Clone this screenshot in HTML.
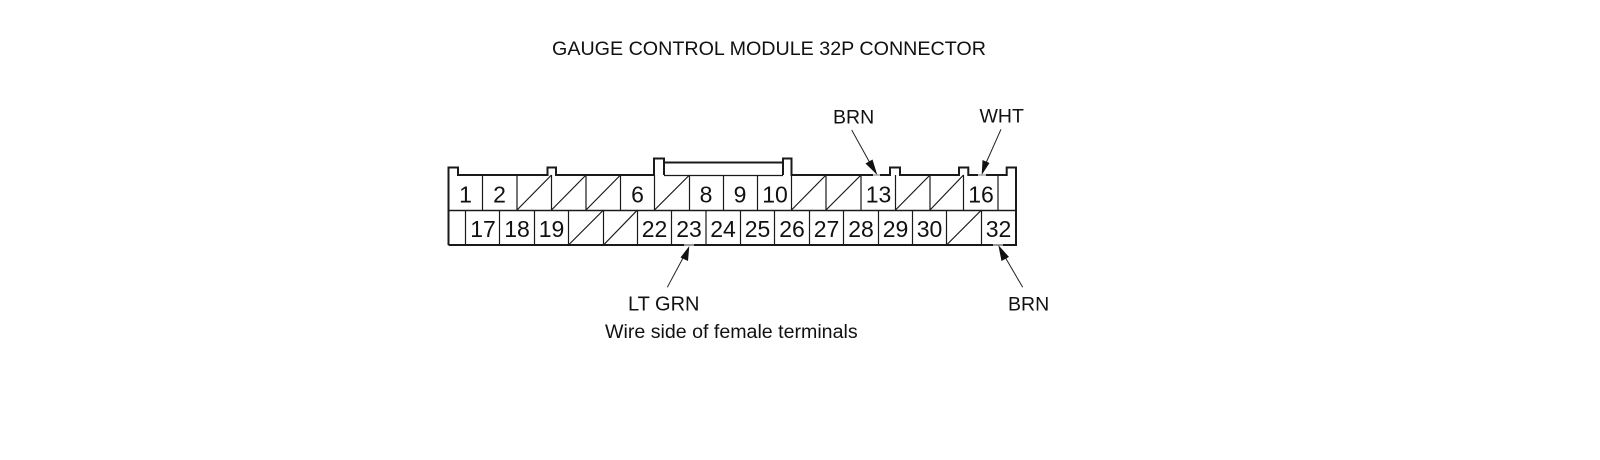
<!DOCTYPE html>
<html>
<head>
<meta charset="utf-8">
<title>Gauge Control Module 32P Connector</title>
<style>
html,body{margin:0;padding:0;background:#fff;}
svg{display:block;}
text{font-family:"Liberation Sans",sans-serif;fill:#111;}
.n{font-size:23px;text-anchor:middle;}
.l{font-size:19.5px;}
</style>
</head>
<body>
<svg width="1600" height="460" viewBox="0 0 1600 460" xmlns="http://www.w3.org/2000/svg">
<rect width="1600" height="460" fill="#fff"/>

<!-- Inner lines -->
<g stroke="#1a1a1a" stroke-width="1.2" fill="none">
<path d="M448 210.5H1016" stroke-width="1.6"/>
<path d="M664 175.5H783"/>
<!-- top row dividers -->
<path d="M482.5 175V210M517 175V210M551.5 175V210M586 175V210M620.5 175V210M654.5 175V210M689.5 175V210M723.5 175V210M757.5 175V210M791.5 175V210M826 175V210M861 175V210M895.5 175V210M930 175V210M963.5 175V210M998 175V210"/>
<!-- bottom row dividers -->
<path d="M465.5 210V245M499.5 210V245M534.5 210V245M568.5 210V245M603.5 210V245M637.5 210V245M671.5 210V245M706 210V245M740.5 210V245M774.5 210V245M809.5 210V245M843.5 210V245M878.5 210V245M912.5 210V245M946.5 210V245M981.5 210V245"/>
<!-- slashes top -->
<path d="M517 210L551.5 175M551.5 210L586 175M586 210L620.5 175M654.5 210L689.5 175M791.5 210L826 175M826 210L861 175M895.5 210L930 175M930 210L963.5 175"/>
<!-- slashes bottom -->
<path d="M568.5 245L603.5 210M603.5 245L637.5 210M946.5 245L981.5 210"/>
</g>

<!-- Outer outline -->
<g stroke="#1a1a1a" stroke-width="2" fill="none">
<path d="M448.5 245V167.5H458V175H547.5V167.5H556V175H654V158.5H664V175M664 162.5H783M783 175V158.5H791.5V175H873M880 175H890V167.5H900V175H959V167.5H968.3V175H978M986 175H1006.7V167.5H1016V245H448.5"/>
<path d="M873 175H880M978 175H986" stroke="#bbb"/>
<path d="M684 245H694M993 245H1003" stroke="#999"/>
</g>

<!-- Numbers -->
<g>
<text class="n" x="465.5" y="202.5">1</text>
<text class="n" x="499.5" y="202.5">2</text>
<text class="n" x="637.5" y="202.5">6</text>
<text class="n" x="706" y="202.5">8</text>
<text class="n" x="740" y="202.5">9</text>
<text class="n" x="775" y="202.5">10</text>
<text class="n" x="878.5" y="202.5">13</text>
<text class="n" x="981" y="202.5">16</text>
<text class="n" x="483" y="237">17</text>
<text class="n" x="517" y="237">18</text>
<text class="n" x="551.5" y="237">19</text>
<text class="n" x="654.5" y="237">22</text>
<text class="n" x="689" y="237">23</text>
<text class="n" x="723" y="237">24</text>
<text class="n" x="757.5" y="237">25</text>
<text class="n" x="792" y="237">26</text>
<text class="n" x="826.5" y="237">27</text>
<text class="n" x="861" y="237">28</text>
<text class="n" x="895.5" y="237">29</text>
<text class="n" x="929.5" y="237">30</text>
<text class="n" x="998.5" y="237">32</text>
</g>

<!-- Arrows -->
<g stroke="#222" stroke-width="1" fill="none">
<path d="M851.7 130L870 163"/>
<path d="M1001 129.3L986 163"/>
<path d="M667.3 287.3L683 258"/>
<path d="M1022.7 287.3L1005 257"/>
</g>
<g fill="#111" stroke="none">
<path d="M877.3 175L865.5 163.5L872.5 159.5Z"/>
<path d="M981.7 175L982.5 160L989.5 163Z"/>
<path d="M689.3 246L688 261L680.5 257.5Z"/>
<path d="M998.3 245L1009 257L1001.5 261Z"/>
</g>

<!-- Labels -->
<text class="l" x="552" y="55" style="font-size:19.7px">GAUGE CONTROL MODULE 32P CONNECTOR</text>
<text class="l" x="833" y="123.5">BRN</text>
<text class="l" x="979.5" y="122.5">WHT</text>
<text class="l" x="628" y="310.5" style="font-size:20px">LT GRN</text>
<text class="l" x="1008" y="310.5">BRN</text>
<text class="l" x="605" y="338" style="font-size:19.6px">Wire side of female terminals</text>
</svg>
</body>
</html>
